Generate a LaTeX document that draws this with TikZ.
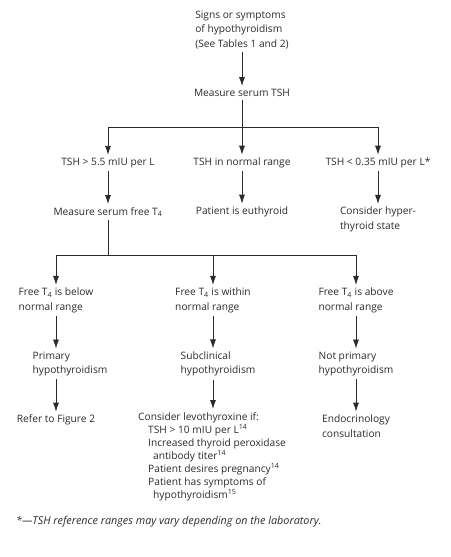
\documentclass[tikz,border=0pt]{standalone}
\usepackage{fontspec}
\setmainfont{Open Sans}
\usetikzlibrary{arrows.meta}
\definecolor{ink}{HTML}{2B2B2B}
\begin{document}
\begin{tikzpicture}
[x=1pt, y=-1pt,
 every node/.style={text=ink, font=\fontsize{10.2}{14.5}\selectfont},
 txt/.style={align=left, inner sep=3pt},
 ln/.style={draw=ink, line width=0.8pt},
 arr/.style={ln, -{Latex[length=9pt,width=6pt]}}]
\useasboundingbox (0,0) rectangle (450,557);
% first level
\node[txt] (signs) at (242,30) {Signs or symptoms\\of hypothyroidism\\(See Tables 1 and 2)};
\node[txt] (tsh) at (242,93) {Measure serum TSH};
\coordinate (split1) at (242,127);
\node[txt] (high) at (108,163) {TSH > 5.5 mIU per L};
\node[txt] (norm) at (242,163) {TSH in normal range};
\node[txt] (low) at (378,163) {TSH < 0.35 mIU per L*};
\node[txt] (ft4) at (108,212) {Measure serum free T\textsubscript{4}};
\node[txt] (euth) at (242,212) {Patient is euthyroid};
\node[txt] (hyper) at (378,219.5) {Consider hyper-\\thyroid state};
% free T4 level
\coordinate (split2) at (108,255);
\node[txt] (below) at (56,300.5) {Free T\textsubscript{4} is below\\normal range};
\node[txt] (within) at (213,300.5) {Free T\textsubscript{4} is within\\normal range};
\node[txt] (above) at (356,300.5) {Free T\textsubscript{4} is above\\normal range};
\node[txt] (primary) at (70,364) {Primary\\hypothyroidism};
\node[txt] (subcl) at (218,364) {Subclinical\\hypothyroidism};
\node[txt] (notprim) at (356,364) {Not primary\\hypothyroidism};
\node[txt] (refer) at (56,420) {Refer to Figure 2};
\node[txt, anchor=north west, font=\fontsize{10.2}{13.1}\selectfont] (levo) at (135,409)
  {Consider levothyroxine if:\\
   \hspace*{10pt}TSH > 10 mIU per L\textsuperscript{14}\\
   \hspace*{10pt}Increased thyroid peroxidase\\
   \hspace*{15pt}antibody titer\textsuperscript{14}\\
   \hspace*{10pt}Patient desires pregnancy\textsuperscript{14}\\
   \hspace*{10pt}Patient has symptoms of\\
   \hspace*{15pt}hypothyroidism\textsuperscript{15}};
\node[txt] (endo) at (356,426) {Endocrinology\\consultation};
\node[anchor=west, inner sep=0pt, font=\fontsize{10.8}{14.5}\selectfont\itshape] (note) at (16,522)
  {*---TSH reference ranges may vary depending on the laboratory.};
% connectors
\draw[arr] (signs) -- (tsh);
\draw[ln] (tsh) -- (split1);
\draw[arr] (split1) -| (high);
\draw[arr] (split1) -- (norm);
\draw[arr] (split1) -| (low);
\draw[arr] (high) -- (ft4);
\draw[arr] (norm) -- (euth);
\draw[arr] (low) -- (hyper);
\draw[ln] (ft4) -- (split2);
\draw[arr] (split2) -| (below);
\draw[arr] (split2) -| (within);
\draw[arr] (split2) -| (above);
\draw[arr] (below.south) -- (below.south |- primary.north);
\draw[arr] (within.south) -- (within.south |- subcl.north);
\draw[arr] (above) -- (notprim);
\draw[arr] (primary.south -| refer) -- (refer);
\draw[arr] (subcl.south -| within) -- (levo.north -| within);
\draw[arr] (notprim) -- (endo);
\end{tikzpicture}
\end{document}
